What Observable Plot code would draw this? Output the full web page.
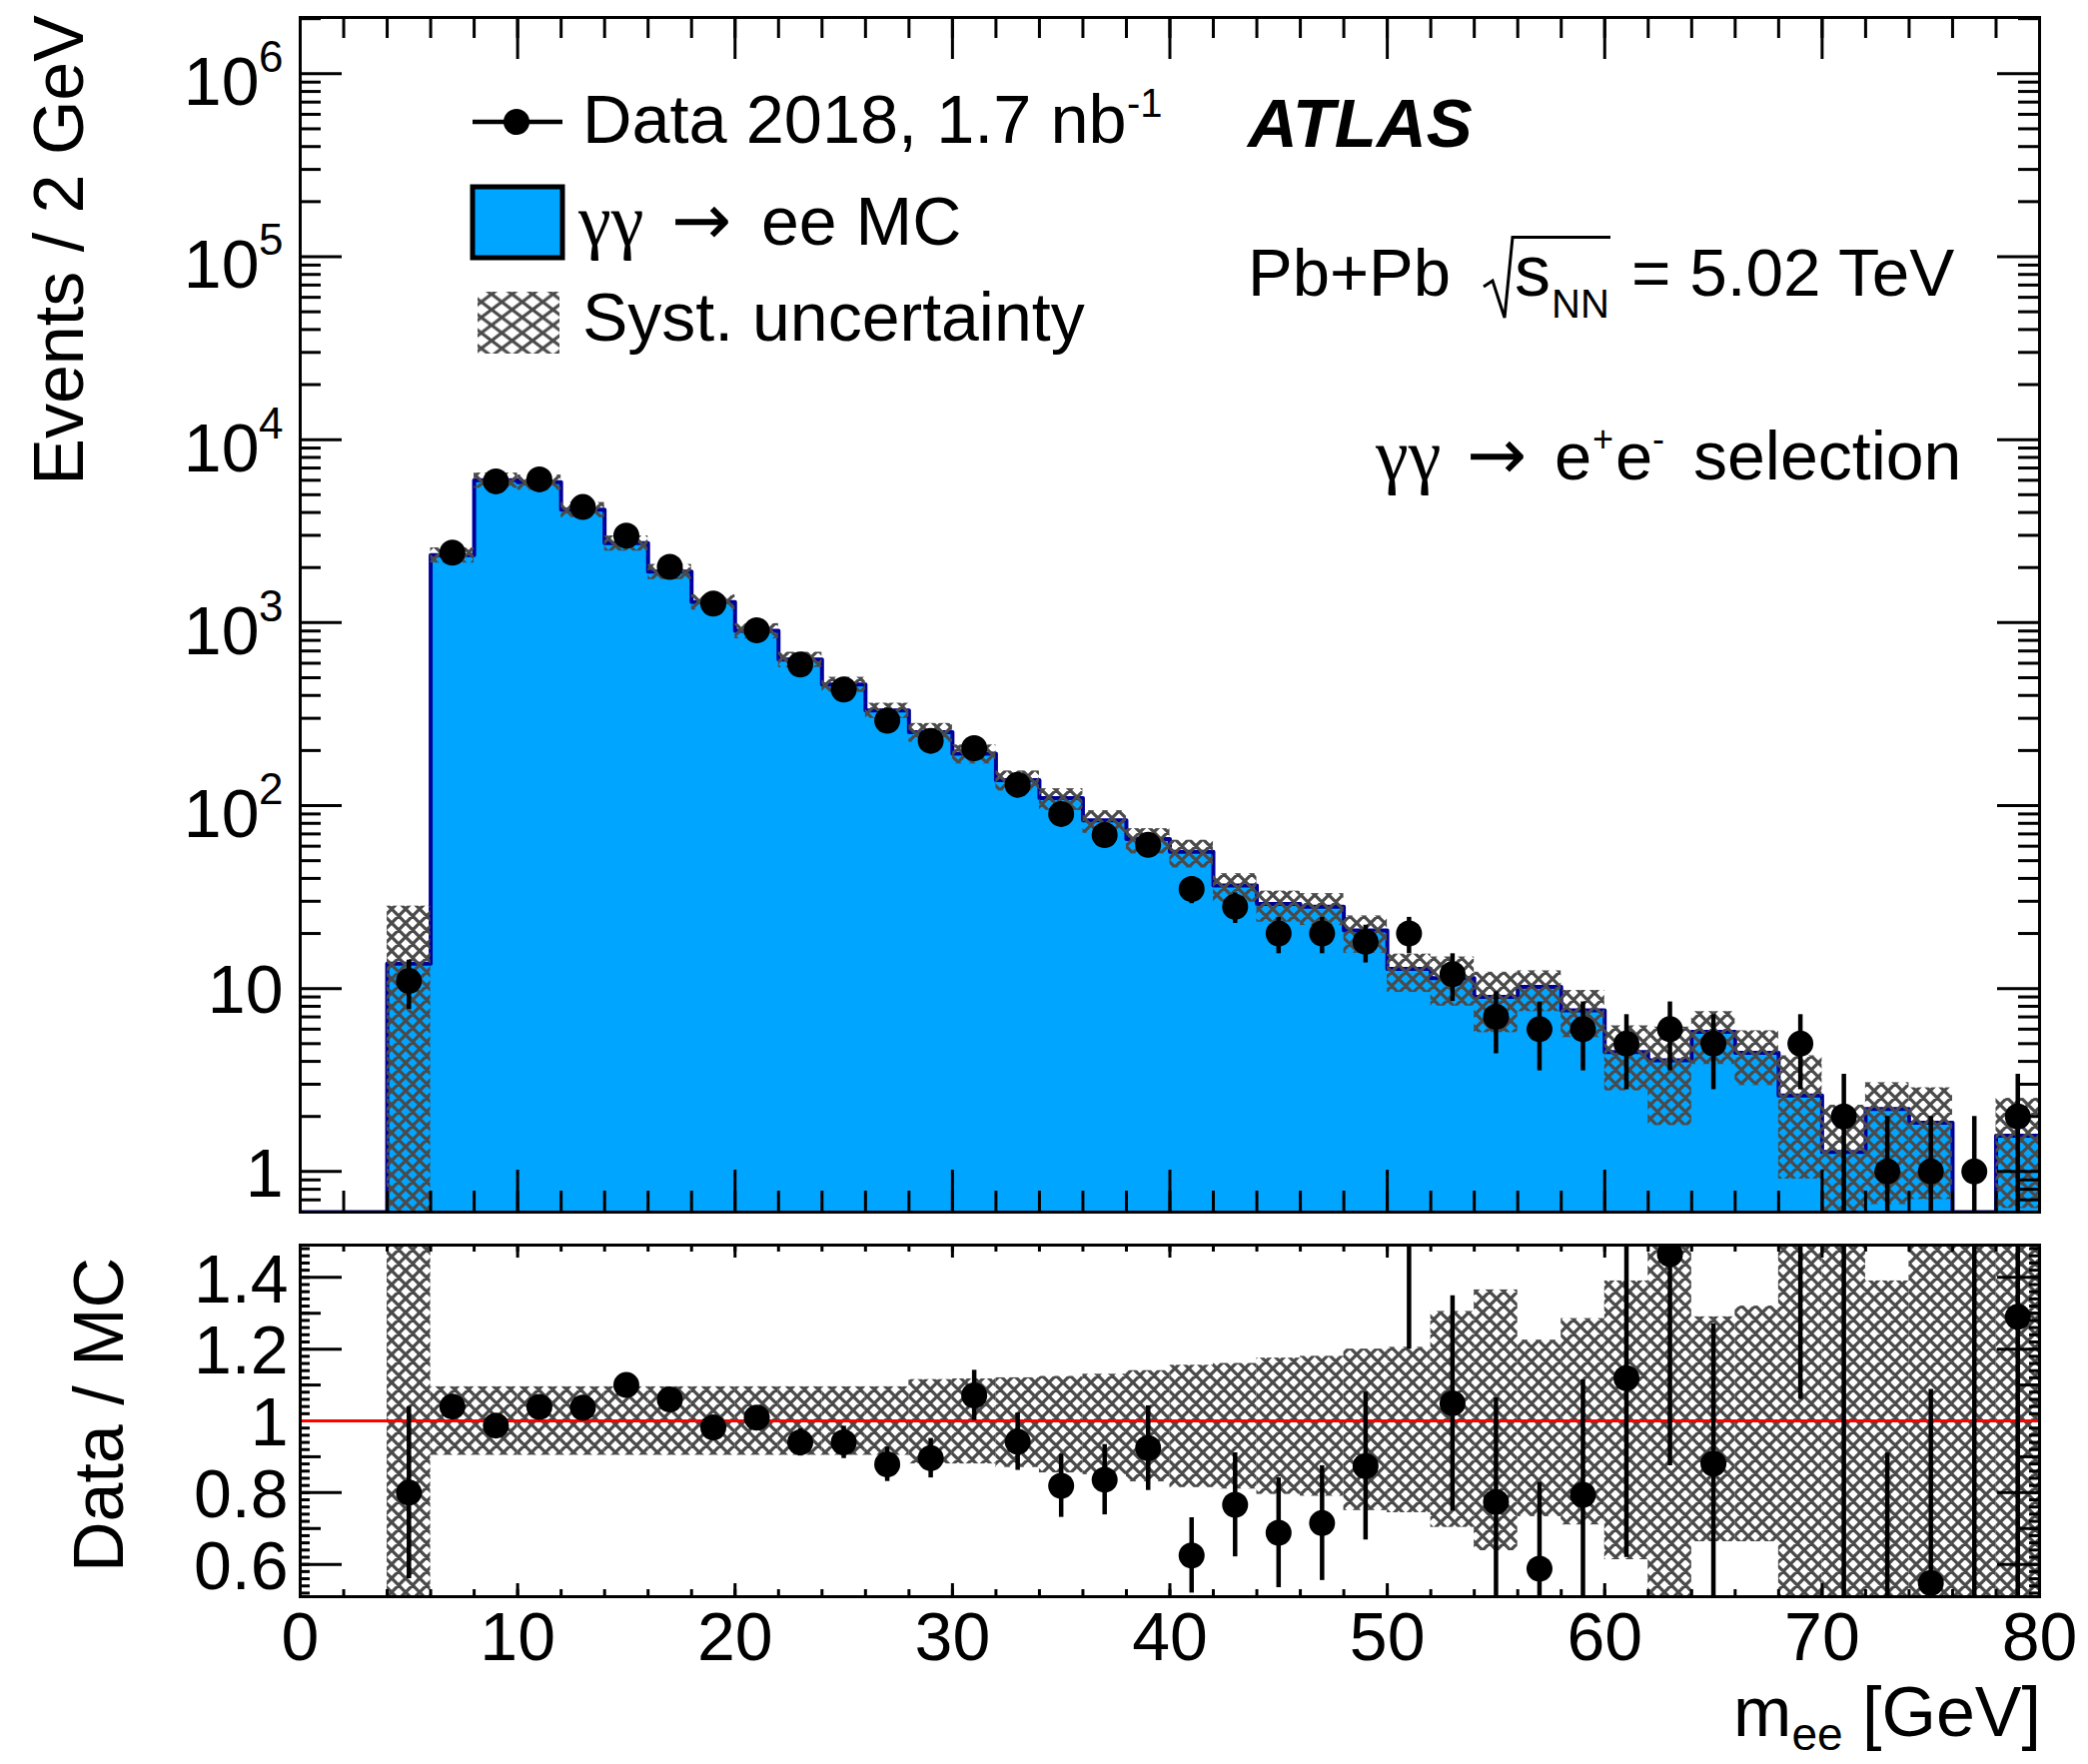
<!DOCTYPE html>
<html><head><meta charset="utf-8">
<script src="https://cdn.jsdelivr.net/npm/d3@7"></script>
<script src="https://cdn.jsdelivr.net/npm/@observablehq/plot@0.6"></script>
<style>
html,body{margin:0;padding:0;background:#fff;overflow:hidden;}
#fig{position:relative;width:2090px;height:1766px;background:#fff;}
#fig svg{display:block;}
</style></head><body>
<div id="fig"></div>
<script>
// ---------------- data ----------------
const binCenter = [1,3,5,7,9,11,13,15,17,19,21,23,25,27,29,31,33,35,37,39,41,43,45,47,49,51,53,55,57,59,61,63,65,67,69,71,73,75,77,79];
const mcYield = [0,0,13.7,2340,6000,5850,4140,2720,1900,1295,902,629,459,331,252,192,138,110,83,65.6,56,36.6,29,28,20.8,12.8,11.4,9.0,10.2,7.6,4.5,4.05,5.8,4.45,2.6,1.28,2.2,1.85,0,1.57];
const dataCount = [null,null,11,2415,5920,6070,4285,2990,2018,1271,908,591,431,291,226,206,130,90,69,61,35,28,20,20,18,20,12,7,6,6,5,6,5,null,5,2,1,1,1,2];
const dataErr = [null,null,3.3,49,77,78,65,55,45,36,30,24,21,17,15,14.4,11.4,9.5,8.3,7.8,5.9,5.3,4.5,4.5,4.2,4.5,3.5,2.6,2.45,2.45,2.2,2.45,2.2,null,2.2,1.4,1,1,1,1.4];
const ratioValue = [null,null,0.80,1.04,0.987,1.039,1.037,1.10,1.06,0.982,1.009,0.94,0.94,0.879,0.896,1.071,0.942,0.819,0.836,0.924,0.625,0.766,0.688,0.715,0.874,1.55,1.049,0.774,0.588,0.794,1.119,1.465,0.881,null,1.93,1.56,0.45,0.548,2.0,1.29];
const ratioErr = [null,null,0.24,0.02,0.013,0.013,0.016,0.02,0.024,0.028,0.033,0.038,0.045,0.048,0.055,0.07,0.08,0.088,0.098,0.118,0.105,0.145,0.153,0.16,0.206,0.35,0.30,0.29,0.24,0.32,0.5,0.59,0.39,null,0.87,1.1,0.46,0.54,2.0,0.9];
const systUp = [0,0,1.06,0.095,0.095,0.095,0.095,0.095,0.095,0.095,0.095,0.095,0.095,0.095,0.115,0.117,0.12,0.124,0.13,0.14,0.155,0.16,0.175,0.18,0.2,0.205,0.305,0.365,0.225,0.285,0.39,0.52,0.29,0.32,0.65,0.8,0.39,0.55,1,0.6];
const systDown = [0,0,1.0,0.096,0.096,0.096,0.096,0.096,0.096,0.096,0.096,0.096,0.096,0.096,0.12,0.12,0.13,0.145,0.15,0.17,0.186,0.19,0.205,0.21,0.25,0.256,0.297,0.362,0.267,0.29,0.387,0.56,0.337,0.337,0.65,0.8,0.7,0.62,1,0.6];
const xTickLabels = [0,10,20,30,40,50,60,70,80];
const yDecadeExp = [0,1,2,3,4,5,6];
const ratioTickLabels = [0.6,0.8,1,1.2,1.4];

// ---------------- setup ----------------
const SANS = "'Liberation Sans', Arial, Helvetica, sans-serif";
const SERIF = "'Liberation Serif', 'DejaVu Serif', serif";
const BLUE = "#00a5ff", NAVY = "#000099", HATCH = "#4a4a4a";
const W = 1741, H = 1196, H2 = 352;
const yMin = 0.6, yMax = 2.03e6;

const bins = binCenter.map((c, i) => ({
  c, lo: c - 1, hi: c + 1, mc: mcYield[i], n: dataCount[i], en: dataErr[i],
  r: ratioValue[i], er: ratioErr[i], up: systUp[i], dn: systDown[i]
}));
const mcB = bins.filter(b => b.mc > 0);
const stepPts = bins.flatMap(b => [{x: b.lo, y: b.mc > 0 ? b.mc : yMin}, {x: b.hi, y: b.mc > 0 ? b.mc : yMin}]);
const dataB = bins.filter(b => b.n > 0);
const ratioB = bins.filter(b => b.r != null);
const bandB = bins.filter(b => b.up > 0);

const xMinorTicks = d3.range(0, 81, 2);
const xMajorTicks = xTickLabels;
const yMajorTicks = yDecadeExp.map(e => 10 ** e);
const yMinorTicks = [];
for (let e = -1; e <= 6; e++) for (let k = 2; k <= 9; k++) {
  const v = k * 10 ** e; if (v >= yMin - 1e-9 && v <= yMax) yMinorTicks.push(v);
}
const rSmall = d3.range(26, 75).map(i => +(i * 0.02).toFixed(2));
const rMed = [0.7, 0.9, 1.1, 1.3];

const tk = {stroke: "black", strokeWidth: 3};

// ---------------- main panel ----------------
const mainSvg = Plot.plot({
  width: 2090, height: 1230,
  marginLeft: 300, marginRight: 49, marginTop: 17, marginBottom: 17,
  style: {background: "white", fontFamily: SANS, fontSize: "68px", color: "black"},
  x: {domain: [0, 80], axis: null},
  y: {type: "log", domain: [yMin, yMax], axis: null},
  marks: [
    Plot.area(stepPts, {x1: "x", y1: yMin, y2: "y", fill: BLUE, clip: true}),
    Plot.line(stepPts, {x: "x", y: "y", stroke: NAVY, strokeWidth: 4, clip: true}),
    Plot.rect(mcB, {x1: "lo", x2: "hi", y1: d => Math.max(d.mc * (1 - d.dn), 1e-3), y2: d => d.mc * (1 + d.up), fill: "url(#hatchM)", clip: true}),
    Plot.ruleX(dataB, {x: "c", y1: d => Math.max(d.n - d.en, 1e-3), y2: d => d.n + d.en, stroke: "black", strokeWidth: 4.5, clip: true}),
    Plot.dot(dataB, {x: "c", y: "n", r: 13, fill: "black", clip: true}),
    // ticks (inside the frame, all four sides)
    Plot.ruleX(xMinorTicks, {x: d => d, insetTop: H - 21, ...tk}),
    Plot.ruleX(xMajorTicks, {x: d => d, insetTop: H - 42, ...tk}),
    Plot.ruleX(xMinorTicks, {x: d => d, insetBottom: H - 21, ...tk}),
    Plot.ruleX(xMajorTicks, {x: d => d, insetBottom: H - 42, ...tk}),
    Plot.ruleY(yMinorTicks, {y: d => d, insetRight: W - 21, ...tk}),
    Plot.ruleY(yMajorTicks, {y: d => d, insetRight: W - 42, ...tk}),
    Plot.ruleY(yMinorTicks, {y: d => d, insetLeft: W - 21, ...tk}),
    Plot.ruleY(yMajorTicks, {y: d => d, insetLeft: W - 42, ...tk}),
    // tick labels
    Plot.text(yDecadeExp.filter(e => e >= 2), {y: e => 10 ** e, frameAnchor: "left", text: () => "10", textAnchor: "end", dx: -41, dy: 9.7, fontSize: 68}),
    Plot.text(yDecadeExp.filter(e => e >= 2), {y: e => 10 ** e, frameAnchor: "left", text: e => String(e), textAnchor: "end", dx: -17, dy: -15.6, fontSize: 44}),
    Plot.text(yDecadeExp.filter(e => e < 2), {y: e => 10 ** e, frameAnchor: "left", text: e => String(10 ** e), textAnchor: "end", dx: -17, dy: 3, fontSize: 68}),
    Plot.frame({stroke: "black", strokeWidth: 3})
  ]
});

// ---------------- ratio panel ----------------
const ratioSvg = Plot.plot({
  width: 2090, height: 536,
  marginLeft: 300, marginRight: 49, marginTop: 16, marginBottom: 168,
  style: {background: "white", fontFamily: SANS, fontSize: "68px", color: "black"},
  x: {domain: [0, 80], axis: null},
  y: {domain: [0.51, 1.49], axis: null},
  marks: [
    Plot.rect(bandB, {x1: "lo", x2: "hi", y1: d => 1 - d.dn, y2: d => 1 + d.up, fill: "url(#hatchR)", clip: true}),
    Plot.ruleX(xMinorTicks, {x: d => d, insetTop: H2 - 7, ...tk}),
    Plot.ruleX(xMajorTicks, {x: d => d, insetTop: H2 - 13, ...tk}),
    Plot.ruleX(xMinorTicks, {x: d => d, insetBottom: H2 - 7, ...tk}),
    Plot.ruleX(xMajorTicks, {x: d => d, insetBottom: H2 - 13, ...tk}),
    Plot.ruleY(rSmall, {y: d => d, insetRight: W - 10, ...tk}),
    Plot.ruleY(rMed, {y: d => d, insetRight: W - 21, ...tk}),
    Plot.ruleY(ratioTickLabels, {y: d => d, insetRight: W - 42, ...tk}),
    Plot.ruleY(rSmall, {y: d => d, insetLeft: W - 10, ...tk}),
    Plot.ruleY(rMed, {y: d => d, insetLeft: W - 21, ...tk}),
    Plot.ruleY(ratioTickLabels, {y: d => d, insetLeft: W - 42, ...tk}),
    Plot.ruleY([1], {stroke: "#ff0000", strokeWidth: 3}),
    Plot.ruleX(ratioB, {x: "c", y1: d => d.r - d.er, y2: d => d.r + d.er, stroke: "black", strokeWidth: 4.5, clip: true}),
    Plot.dot(ratioB, {x: "c", y: "r", r: 13, fill: "black", clip: true}),
    Plot.text(ratioTickLabels, {y: d => d, frameAnchor: "left", text: d => String(d), textAnchor: "end", dx: -12, dy: 3, fontSize: 68}),
    Plot.text(xTickLabels, {x: d => d, frameAnchor: "bottom", text: d => String(d), textAnchor: "middle", lineAnchor: "top", dy: 15.7, fontSize: 68}),
    Plot.frame({stroke: "black", strokeWidth: 3})
  ]
});

const fig = document.getElementById("fig");
fig.appendChild(mainSvg);
fig.appendChild(ratioSvg);

// hatch patterns
function addPattern(svg, id, w, h, sw) {
  let defs = d3.select(svg).select("defs");
  if (defs.empty()) defs = d3.select(svg).insert("defs", ":first-child");
  const p = defs.append("pattern").attr("id", id).attr("patternUnits", "userSpaceOnUse")
    .attr("width", w).attr("height", h);
  p.append("path")
    .attr("d", `M0,0L${w},${h}M${w},0L0,${h}M${-w/2},${h/2}L0,${h}M${w/2},${-h/2}L${w*1.5},${h/2}M${w/2},${h*1.5}L${w*1.5},${h/2}M${-w/2},${h/2}L${w/2},${-h/2}`)
    .attr("stroke", HATCH).attr("stroke-width", sw).attr("fill", "none");
}
addPattern(mainSvg, "hatchM", 14, 14, 3.2);
addPattern(mainSvg, "hatchL", 20.5, 15.5, 3.2);
addPattern(ratioSvg, "hatchR", 14, 14, 3.2);

// ---------------- annotations ----------------
const s = d3.select(mainSvg);
function txt(sel, x, y, str, size, extra = {}) {
  const t = sel.append("text").attr("x", x).attr("y", y).attr("font-size", size)
    .attr("font-family", extra.family || SANS).attr("fill", "black")
    .attr("text-anchor", extra.anchor || "start").text(str);
  if (extra.weight) t.attr("font-weight", extra.weight);
  if (extra.style) t.attr("font-style", extra.style);
  return t;
}
// y title
s.append("text").attr("transform", "translate(83,15) rotate(-90)").attr("text-anchor", "end")
  .attr("font-size", 70).attr("font-family", SANS).text("Events / 2 GeV");

// legend
s.append("line").attr("x1", 473).attr("x2", 563).attr("y1", 122).attr("y2", 122).attr("stroke", "black").attr("stroke-width", 4.5);
s.append("circle").attr("cx", 517).attr("cy", 122).attr("r", 13).attr("fill", "black");
txt(s, 583, 143, "Data 2018, 1.7 nb", 68.5);
txt(s, 1128, 117, "-1", 40);
s.append("rect").attr("x", 473).attr("y", 187).attr("width", 90).attr("height", 71).attr("fill", BLUE).attr("stroke", "black").attr("stroke-width", 5);
{
  const t = s.append("text").attr("y", 245).attr("font-size", 68).attr("font-family", SANS).attr("text-anchor", "start");
  t.append("tspan").attr("x", 579).attr("font-family", SERIF).attr("font-size", 74).text("γγ");
  t.append("tspan").attr("x", 672).attr("font-family", "'DejaVu Sans', sans-serif").attr("font-size", 72).text("→");
  t.append("tspan").attr("x", 762).text("ee MC");
}
s.append("rect").attr("x", 478).attr("y", 292).attr("width", 82).attr("height", 62).attr("fill", "url(#hatchL)");
txt(s, 583, 341, "Syst. uncertainty", 68);

// ATLAS label
txt(s, 1249, 147, "ATLAS", 69, {weight: "bold", style: "italic"});
// Pb+Pb sqrt(s_NN)
txt(s, 1249, 296, "Pb+Pb", 67);
s.append("path").attr("d", "M1485,287L1494,281L1506,318L1514,237.5L1612,237.5")
  .attr("fill", "none").attr("stroke", "black").attr("stroke-width", 3);
txt(s, 1516, 296, "s", 72);
txt(s, 1553, 318, "NN", 40);
txt(s, 1633, 296, "= 5.02 TeV", 67.5);
// selection
{
  const t = s.append("text").attr("y", 480).attr("font-size", 67).attr("font-family", SANS).attr("text-anchor", "start");
  t.append("tspan").attr("x", 1377).attr("font-family", SERIF).attr("font-size", 74).text("γγ");
  t.append("tspan").attr("x", 1468).attr("font-family", "'DejaVu Sans', sans-serif").attr("font-size", 72).text("→");
  t.append("tspan").attr("x", 1556).text("e");
}
txt(s, 1594, 452, "+", 36);
txt(s, 1617, 480, "e", 67);
txt(s, 1654, 452, "-", 36);
txt(s, 1695, 480, "selection", 68);

// ratio panel titles
const r = d3.select(ratioSvg);
r.append("text").attr("transform", "translate(123,29) rotate(-90)").attr("text-anchor", "end")
  .attr("font-size", 70).attr("font-family", SANS).text("Data / MC");
{
  const t = r.append("text").attr("x", 2043).attr("y", 508).attr("text-anchor", "end")
    .attr("font-size", 70).attr("font-family", SANS);
  t.append("tspan").text("m");
  t.append("tspan").attr("font-size", 46).attr("dy", 14).text("ee");
  t.append("tspan").attr("dy", -14).text(" [GeV]");
}
</script>
</body></html>
